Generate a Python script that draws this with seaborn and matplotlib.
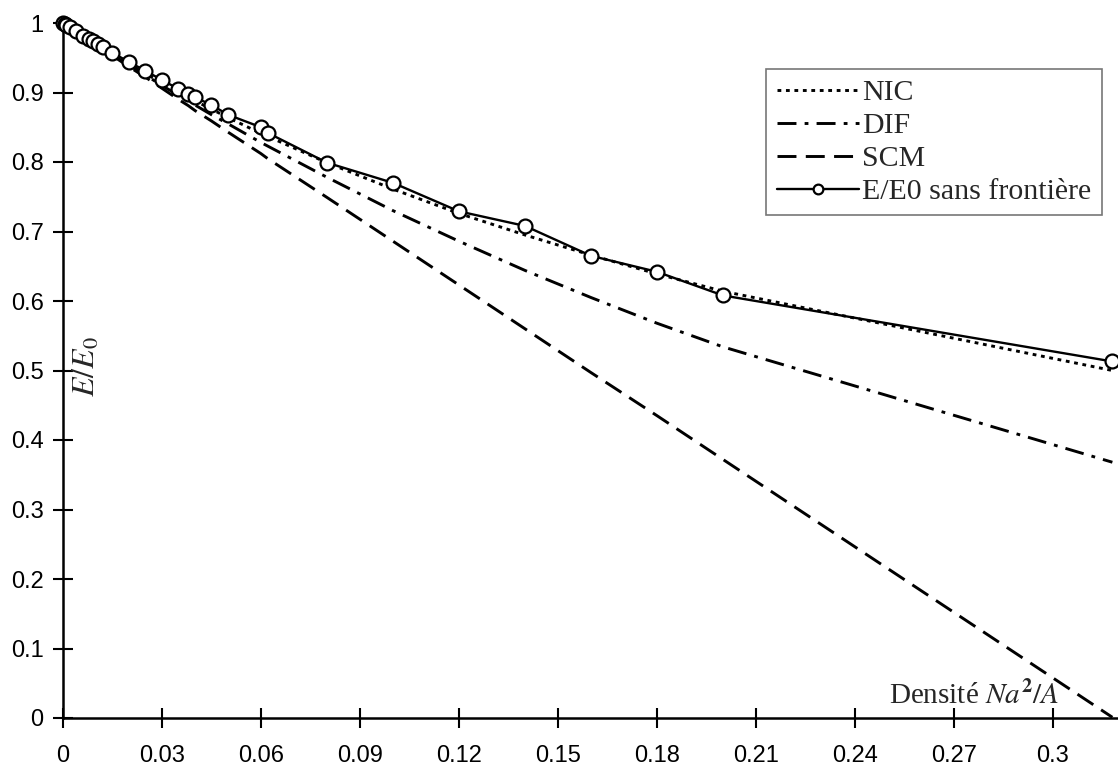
import numpy as np
import matplotlib
matplotlib.use("Agg")
import matplotlib.pyplot as plt
import seaborn as sns

# density N a^2 / A
density = [0, 0.0005, 0.001, 0.002, 0.004, 0.006, 0.008, 0.009, 0.0105, 0.012,
           0.015, 0.02, 0.025, 0.03, 0.035, 0.038, 0.04, 0.045, 0.05, 0.06,
           0.062, 0.08, 0.1, 0.12, 0.14, 0.16, 0.18, 0.2, 0.318]

nic = [1.0, 0.998, 0.997, 0.994, 0.988, 0.982, 0.976, 0.973, 0.968, 0.964,
       0.955, 0.941, 0.927, 0.914, 0.901, 0.893, 0.888, 0.876, 0.864, 0.841,
       0.837, 0.799, 0.761, 0.726, 0.695, 0.666, 0.639, 0.614, 0.500]

dif = [1.0, 0.998, 0.997, 0.994, 0.988, 0.981, 0.975, 0.972, 0.968, 0.963,
       0.954, 0.939, 0.925, 0.910, 0.896, 0.888, 0.882, 0.868, 0.855, 0.828,
       0.823, 0.778, 0.730, 0.686, 0.644, 0.605, 0.568, 0.534, 0.368]

scm = [1.0, 0.998, 0.997, 0.994, 0.987, 0.981, 0.975, 0.972, 0.967, 0.962,
       0.953, 0.937, 0.922, 0.906, 0.890, 0.881, 0.874, 0.859, 0.843, 0.812,
       0.805, 0.749, 0.686, 0.623, 0.560, 0.497, 0.435, 0.372, 0.001]

e_ratio = [1.0, 0.999, 0.997, 0.994, 0.988, 0.982, 0.977, 0.974, 0.970, 0.966,
           0.957, 0.944, 0.931, 0.918, 0.905, 0.898, 0.893, 0.882, 0.868, 0.850,
           0.842, 0.799, 0.770, 0.729, 0.708, 0.665, 0.642, 0.608, 0.513]

x_ticks = [0, 0.03, 0.06, 0.09, 0.12, 0.15, 0.18, 0.21, 0.24, 0.27, 0.3]
y_ticks = [0, 0.1, 0.2, 0.3, 0.4, 0.5, 0.6, 0.7, 0.8, 0.9, 1]

sns.set_style("ticks")
plt.rcParams["font.family"] = ["Liberation Sans", "DejaVu Sans"]
plt.rcParams["mathtext.fontset"] = "stix"

fig = plt.figure(figsize=(11.18, 7.65), dpi=100)
ax = fig.add_axes([63 / 1118, 1 - 718 / 765, (1117 - 63) / 1118, (718 - 23) / 765])

lw = 2.1
sns.lineplot(x=density, y=nic, ax=ax, color="black", lw=lw,
             linestyle=(0, (1.3, 1.6)), label="NIC", sort=False)
sns.lineplot(x=density, y=dif, ax=ax, color="black", lw=lw,
             linestyle=(0, (6.5, 2.8, 1.3, 2.8)), label="DIF", sort=False)
sns.lineplot(x=density, y=scm, ax=ax, color="black", lw=lw,
             linestyle=(0, (6.5, 3.2)), label="SCM", sort=False)
sns.lineplot(x=density, y=e_ratio, ax=ax, color="black", lw=1.7,
             marker="o", markersize=10, markerfacecolor="white",
             markeredgecolor="black", markeredgewidth=1.6,
             label="E/E0 sans frontière", sort=False, clip_on=False, zorder=5)

ax.set_xlim(0, 0.3194)
ax.set_ylim(0, 1)
ax.set_xticks(x_ticks)
ax.set_xticklabels([f"{v:g}" for v in x_ticks])
ax.set_yticks(y_ticks)
ax.set_yticklabels([f"{v:g}" for v in y_ticks])
ax.tick_params(direction="inout", length=14, width=1.5, labelsize=17, colors="black")
ax.tick_params(axis="x", pad=12.5)
ax.tick_params(axis="y", pad=7)
for side in ["top", "right"]:
    ax.spines[side].set_visible(False)
for side in ["left", "bottom"]:
    ax.spines[side].set_linewidth(1.8)
    ax.spines[side].set_color("black")
ax.set_xlabel("")
ax.set_ylabel("")

# axis titles drawn inside the plot, as in the original
ax.text(0.0073, 0.506, r"$E/E_0$", rotation=90, ha="center", va="center", fontsize=23)
ax.text(0.302, 0.012, r"Densité $Na^{\mathbf{2}}/A$", ha="right", va="bottom",
        fontsize=21, family="Liberation Serif")

leg = ax.legend(loc="upper right", bbox_to_anchor=(1102 / 1118, 1 - 69 / 765),
                bbox_transform=fig.transFigure, frameon=True,
                fancybox=False, edgecolor="#555555", handlelength=2.75,
                handletextpad=0.12, labelspacing=0.2, borderpad=0.35,
                borderaxespad=0, prop={"family": "Liberation Serif", "size": 21.5})
leg.get_frame().set_linewidth(1.2)
for line in leg.get_lines():
    line.set_markersize(7)

fig.savefig("out.png", dpi=100)
